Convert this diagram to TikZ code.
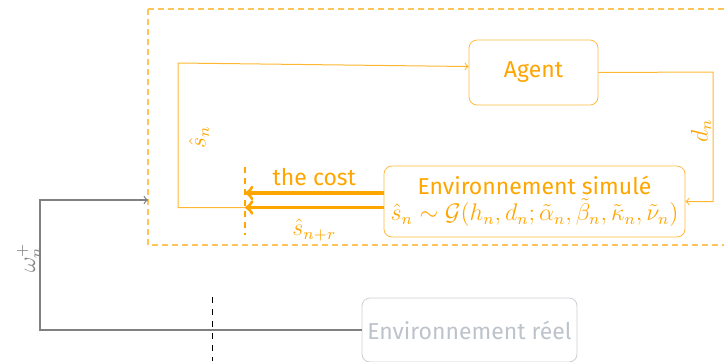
\documentclass[tikz,border=0pt]{standalone}
\usepackage{fontspec}
\setmainfont{Fira Sans}
\usetikzlibrary{calc}
\usetikzlibrary{arrows}
\definecolor{myorange}{HTML}{FFA500}
\definecolor{mygray}{HTML}{BCC3CA}

\begin{document}
\begin{tikzpicture} [x=0.5pt, y=-0.5pt, >=to,
  box/.style={draw, rounded corners=4pt, align=center, inner sep=2pt},
  agentbox/.style={box, draw=myorange!75, text=myorange, minimum width=64.5pt, minimum height=32.5pt},
  simbox/.style={box, draw=myorange!75, text=myorange, minimum width=150.5pt, minimum height=35.5pt},
  realbox/.style={box, draw=mygray!80, text=mygray, minimum width=107.5pt, minimum height=32pt},
  thinline/.style={myorange!80, line width=.5pt},
  costline/.style={myorange, line width=1.6pt, ->},
  lbl/.style={text=myorange, rotate=90}]
\useasboundingbox (0,0) rectangle (724,361);
\fontsize{11.5}{14}\selectfont
\draw[myorange!65, dash pattern=on 3pt off 2pt, line width=.6pt] (148,9) -- (740,9) (148,9) -- (148,245) -- (740,245);
\node[agentbox] (agent) at (533.5,72.5) {Agent};
\node[simbox] (sim) at (534.5,201.5) {Environnement simulé\\[-1pt]
  $\hat{s}_n \sim \mathcal{G}(h_n, d_n; \tilde{\alpha}_n, \tilde{\beta}_n, \tilde{\kappa}_n, \tilde{\nu}_n)$};
\node[realbox] (real) at (469.5,330) {Environnement réel};
\coordinate (cut) at (245,201);
\coordinate (lcorner) at (178,63);
\coordinate (rcorner) at (713,72);
\coordinate (gcorner) at (40,200);
\coordinate (boxin) at (148,200);
% simulated loop
\draw[costline] ([yshift=4.25pt]sim.west) -- ([yshift=4.25pt]sim.west -| cut) node[midway, above=-1pt, text=myorange] {the cost};
\draw[costline] ([yshift=-3pt]sim.west) -- ([yshift=-3pt]sim.west -| cut) node[midway, below=1pt, text=myorange] {$\hat{s}_{n+r}$};
\draw[thinline, ->] ([yshift=-3pt]sim.west -| cut) -| (lcorner) -- ([yshift=3pt]agent.west);
\draw[thinline, ->] (agent.east) -- (rcorner) |- (sim.east);
\node[lbl] (sn) at (199,137) {$\hat{s}_n$};
\node[lbl] (dn) at (701,131) {$d_n$};
\draw[myorange, dash pattern=on 3pt off 2.5pt, line width=.7pt] (245,167) -- (245,235);
% real environment
\draw[gray, line width=.6pt, ->] (real.west) -| (gcorner) -- (boxin);
\node[rotate=90, text=gray] (omega) at (29,258) {$\omega_n^+$};
\draw[black, dash pattern=on 3pt off 3pt, line width=.5pt] (212,297) -- (212,361);
\end{tikzpicture}
\end{document}
